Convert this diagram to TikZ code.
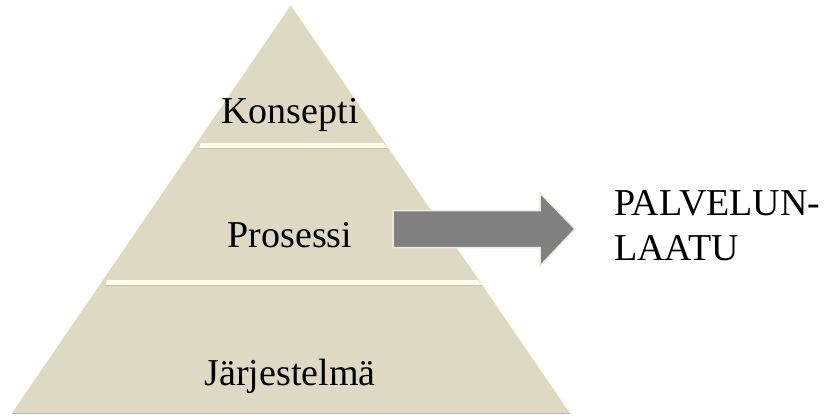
\documentclass[tikz,border=0pt]{standalone}
\usepackage{fontspec}
\setmainfont{Liberation Serif}
\usetikzlibrary{calc, positioning}

\definecolor{layerBeige}{RGB}{221,217,195}
\definecolor{layerCream}{RGB}{255,252,235}
\definecolor{arrowGray}{RGB}{128,128,128}
\definecolor{arrowEdge}{RGB}{238,236,222}

\tikzset{
    layer/.style={fill=layerBeige, draw=none},
    gap/.style={fill=layerCream, draw=none},
    label/.style={anchor=base, inner sep=0pt, font=\fontsize{38}{44}\selectfont},
}

\begin{document}
\begin{tikzpicture}[x=1pt, y=-1pt]
        \useasboundingbox (0,0) rectangle (824,416);

        \coordinate (cApexPt) at (291, 5);
        \coordinate (cLeftPt) at (12, 413);
        \coordinate (cRightPt) at (570, 413);

        % pyramid body
        \fill[layer] (cApexPt) -- (cRightPt) -- (cLeftPt) -- cycle;
        \draw[layerCream, line width=1.2pt] ($(cApexPt)+(1,1)$) -- ($(cRightPt)+(0,-1)$);

        % strips between the layers
        \foreach \ya/\yb in {143/148, 280/285}
        {
            \fill[gap] ({291-0.684*(\ya-5)+4}, \ya) -- ({291+0.684*(\ya-5)-2}, \ya)
                -- ({291+0.684*(\yb-5)-1}, \yb) -- ({291-0.684*(\yb-5)+6}, \yb) -- cycle;
            \draw[layerBeige!90!black, line width=0.6pt] ({291-0.684*(\yb-5)+6}, \yb+0.5) -- ({291+0.684*(\yb-5)-1}, \yb+0.5);
        };
        \draw[layerBeige!85!black, line width=0.8pt] (cLeftPt) -- (cRightPt);

        \foreach \n/\y/\t in
        {nKonsepti/123/Konsepti,
            nProsessi/247/Prosessi,
            nJarjestelma/385/Järjestelmä
        }
        {
            \node[label] (\n) at (290, \y) {\t};
        };

        % arrow to the right
        \coordinate (cTailPt) at (393, 229);
        \coordinate (cTipPt) at (575, 229);
        \draw[fill=arrowGray, draw=arrowEdge, line width=1.5pt]
            ($(cTailPt)+(0,-18.5)$) -- (540, 210.5) -- (540, 193) -- (cTipPt)
            -- (540, 266) -- (540, 247.5) -- ($(cTailPt)+(0,18.5)$) -- cycle;

        \node[label, anchor=base west] (nPalvelun) at (614, 215) {PALVELUN-};
        \node[label, anchor=base west] (nLaatu) at (614, 260) {LAATU};

        \end{tikzpicture}
\end{document}
